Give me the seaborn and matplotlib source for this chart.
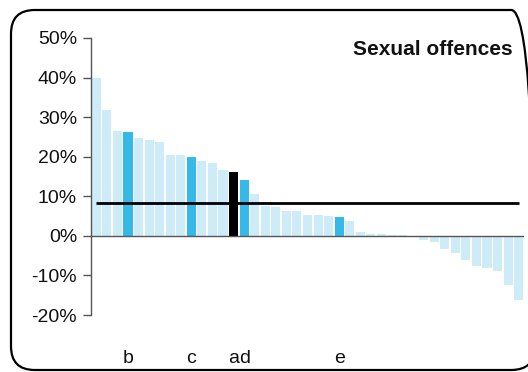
import matplotlib
matplotlib.use('Agg')
import matplotlib.pyplot as plt
import numpy as np
import pandas as pd
import seaborn as sns
from matplotlib.patches import FancyBboxPatch

# 数据（从图中读取，单位 %）
values = [40.0, 31.8, 26.5, 26.3, 24.8, 24.3, 23.8, 20.5, 20.5, 20.0,
          19.0, 18.5, 16.7, 16.2, 14.0, 10.6, 7.6, 7.3, 6.3, 6.3,
          5.3, 5.3, 5.05, 4.8, 3.8, 1.0, 0.5, 0.5, 0.15, 0.1,
          -0.4, -1.0, -1.5, -3.3, -4.3, -6.0, -7.6, -8.1, -8.8, -12.3,
          -16.1]
labels = ['', '', '', 'b', '', '', '', '', '', 'c',
          '', '', '', 'a', 'd', '', '', '', '', '',
          '', '', '', 'e', '', '', '', '', '', '',
          '', '', '', '', '', '', '', '', '', '',
          '']
average = 8.3
title = 'Sexual offences'
y_ticks = [-20, -10, 0, 10, 20, 30, 40, 50]

LIGHT = '#CDECF8'
BLUE = '#35B9E9'
BLACK = '#000000'

sns.set_style('white')
plt.rcParams['font.family'] = ['Liberation Sans', 'DejaVu Sans']

df = pd.DataFrame({'pos': list(range(len(values))), 'value': values, 'label': labels})
colors = {}
for p, lab in zip(df['pos'], df['label']):
    if lab == 'a':
        colors[p] = BLACK
    elif lab != '':
        colors[p] = BLUE
    else:
        colors[p] = LIGHT

fig = plt.figure(figsize=(5.28, 3.72), dpi=100)
ax = fig.add_axes([91 / 528, (372 - 315) / 372, (524 - 91) / 528, (315 - 38) / 372])

sns.barplot(data=df, x='pos', y='value', hue='pos', palette=colors, legend=False,
            width=0.86, saturation=1, ax=ax, linewidth=0)

# 零线
ax.axhline(0, color='#555555', lw=1, zorder=3)

# 平均线
ax.plot([0, len(values) - 1], [average, average], color='black', lw=2, zorder=4,
        solid_capstyle='butt')

ax.set_xlim(-0.5, len(values) - 0.5)
ax.set_ylim(-20, 50)
ax.set_yticks(y_ticks)
ax.set_yticklabels([f'{t}%' for t in y_ticks], fontsize=14, color='#111111')
ax.tick_params(axis='y', direction='out', length=6, width=1, color='#555555',
               left=True, pad=4)

lab_pos = [p for p, l in zip(df['pos'], labels) if l]
ax.set_xticks(lab_pos)
ax.set_xticklabels([l for l in labels if l], fontsize=14, color='#111111')
ax.tick_params(axis='x', length=0, pad=25)

ax.set_xlabel('')
ax.set_ylabel('')
for s in ['top', 'right', 'bottom']:
    ax.spines[s].set_visible(False)
ax.spines['left'].set_color('#555555')
ax.spines['left'].set_linewidth(1)

ax.text(0.9746, 0.957, title, transform=ax.transAxes, ha='right', va='center',
        fontsize=15, fontweight='bold', color='#111111')

# 圆角边框
box = FancyBboxPatch((11 / 528, 2 / 372), (535 - 11) / 528, (362 - 2) / 372,
                     boxstyle='round,pad=0,rounding_size=0.045',
                     transform=fig.transFigure, fill=False, edgecolor='black',
                     lw=1.6, clip_on=False, mutation_aspect=528 / 372)
fig.patches.append(box)

fig.savefig('out.png', dpi=100)
